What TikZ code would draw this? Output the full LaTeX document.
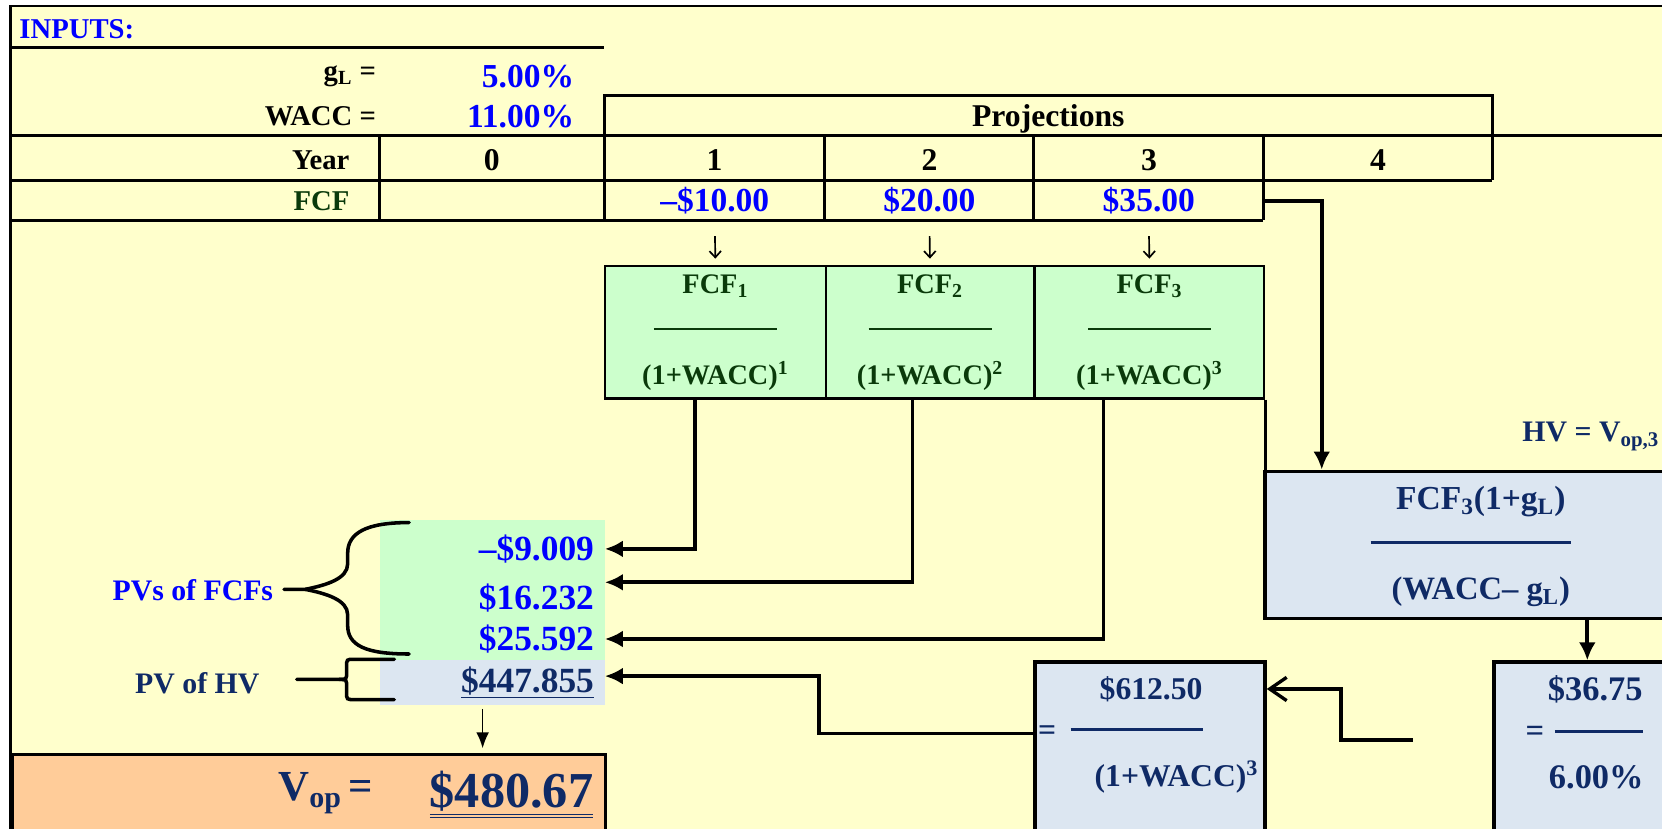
\documentclass[tikz,border=0pt]{standalone}
\usepackage{xcolor}
\usepackage{fontspec}
\setmainfont{Liberation Serif}
\usepackage{tikz}
\usetikzlibrary{arrows.meta}

\definecolor{sheet}{HTML}{FFFFCC}
\definecolor{pvgreen}{HTML}{CCFFCC}
\definecolor{hvblue}{HTML}{DCE6F1}
\definecolor{vopfill}{HTML}{FFCC99}
\definecolor{inblue}{HTML}{0000FF}
\definecolor{fcfgreen}{HTML}{0A3A0A}
\definecolor{hvnavy}{HTML}{0F2A66}

\newcommand{\sheetfont}[2]{\fontsize{#1}{#2}\selectfont\bfseries}

\tikzstyle{gridline} = [line width=1.7pt]
\tikzstyle{rowlabel} = [inner sep=0pt, anchor=east, font=\sheetfont{15.4}{18}]
\tikzstyle{inval} = [inner sep=0pt, anchor=east, text=inblue, font=\sheetfont{18}{21}]
\tikzstyle{headnum} = [inner sep=0pt, font=\sheetfont{17}{20}]
\tikzstyle{fcfcell} = [rectangle, anchor=north west, inner sep=0pt, minimum height=0.76cm, text=inblue, font=\sheetfont{18}{21}]
\tikzstyle{greenbox} = [rectangle, anchor=north west, draw=black, line width=1.1pt, fill=pvgreen, minimum height=2.5cm, inner sep=0pt, align=center, text=fcfgreen, font=\sheetfont{15.2}{24.4}]
\tikzstyle{valcell} = [rectangle, anchor=north west, inner xsep=0.2cm, inner ysep=0pt, text width=3.84cm, align=right, font=\sheetfont{19}{22}]
\tikzstyle{hvbox} = [rectangle, anchor=north west, draw=black, line width=1.8pt, fill=hvblue, minimum height=4cm]
\tikzstyle{hvtext} = [inner sep=0pt, text=hvnavy, font=\sheetfont{17.5}{20}]
\tikzstyle{fracrule} = [line width=1.6pt, hvnavy]
\tikzstyle{curl} = [line width=1.9pt, line cap=round]
\tikzstyle{arrow} = [line width=2pt, -{Latex[length=0.34cm, width=0.32cm]}]
\tikzstyle{thinarrow} = [line width=0.9pt, -{Latex[length=0.3cm, width=0.24cm]}]
\tikzstyle{downarrow} = [line width=0.9pt, -{Straight Barb[length=0.12cm, width=0.22cm]}]
\tikzstyle{openarrow} = [line width=1.8pt, -{Straight Barb[length=0.32cm, width=0.44cm]}]

\begin{document}
\begin{tikzpicture}[x=0.02cm, y=-0.02cm]

        \useasboundingbox (0,0) rectangle (1568,782);
        \clip (0,0) rectangle (1568,782);
        \fill[white] (0,0) rectangle (1568,782);
        \fill[sheet] (10,6) rectangle (1568,782);
        \draw[line width=1.2pt] (10,800) -- (10,6) -- (1570,6);

        % Grid of the input sheet
        \draw[gridline] (10,45) -- (570,45);
        \draw[gridline] (570,128) -- (570,90) -- (1408,90) -- (1408,170);
        \draw[gridline] (10,128) -- (1568,128);
        \draw[gridline] (10,170) -- (1408,170);
        \draw[gridline] (10,208) -- (1192,208);
        \draw[gridline] (358,128) -- (358,208);
        \draw[gridline] (570,128) -- (570,208);
        \draw[gridline] (778,128) -- (778,208);
        \draw[gridline] (975,128) -- (975,208);
        \draw[gridline] (1192,128) -- (1192,208);

        % Inputs
        \node (inputs) [inner sep=0pt, anchor=west, text=inblue, font=\sheetfont{15.4}{18}] at (18,28) {INPUTS:};
        \node (gl) [rowlabel] at (355,72) {g\textsubscript{L} =};
        \node (glval) [inval] at (542,72) {5.00\%};
        \node (wacc) [rowlabel] at (355,110) {WACC =};
        \node (waccval) [inval] at (542,110) {11.00\%};

        % Timeline
        \node (proj) [headnum] at (989,112) {Projections};
        \node (year) [rowlabel] at (330,151) {Year};
        \node (y0) [headnum] at (464,151) {0};
        \node (y1) [headnum] at (674,151) {1};
        \node (y2) [headnum] at (877,151) {2};
        \node (y3) [headnum] at (1084,151) {3};
        \node (y4) [headnum] at (1300,151) {4};
        \node (fcflbl) [rowlabel, text=fcfgreen] at (330,190) {FCF};
        \node (fcf1) [fcfcell, minimum width=4.16cm] at (570,170) {–\$10.00};
        \node (fcf2) [fcfcell, minimum width=3.94cm] at (778,170) {\$20.00};
        \node (fcf3) [fcfcell, minimum width=4.34cm] at (975,170) {\$35.00};

        % Discounting
        \node (g1) [greenbox, minimum width=4.16cm] at (570,250) {FCF\textsubscript{1}\\\rule[0.3em]{2.32cm}{1.4pt}\\(1+WACC)\textsuperscript{1}};
        \node (g2) [greenbox, minimum width=3.94cm] at (778,250) {FCF\textsubscript{2}\\\rule[0.3em]{2.32cm}{1.4pt}\\(1+WACC)\textsuperscript{2}};
        \node (g3) [greenbox, minimum width=4.34cm] at (975,250) {FCF\textsubscript{3}\\\rule[0.3em]{2.32cm}{1.4pt}\\(1+WACC)\textsuperscript{3}};

        % Present values
        \node (pv1) [valcell, fill=pvgreen, minimum height=1.1cm, text=inblue] at (358,490) {–\$9.009};
        \node (pv2) [valcell, fill=pvgreen, minimum height=0.76cm, text=inblue] at (358,545) {\$16.232};
        \node (pv3) [valcell, fill=pvgreen, minimum height=0.78cm, text=inblue] at (358,583) {\$25.592};
        \node (pvhv) [valcell, fill=hvblue, minimum height=0.86cm, text=hvnavy] at (358,622) {\underline{\$447.855}};
        \node (pvlbl) [inner sep=0pt, anchor=east, text=inblue, font=\sheetfont{16}{19}] at (258,557) {PVs of FCFs};
        \node (pvhvlbl) [hvtext, anchor=east, font=\sheetfont{16}{19}] at (245,645) {PV of HV};

        % Horizon value
        \node (hvlbl) [hvtext, anchor=west, font=\sheetfont{16}{19}] at (1436,412) {HV = V\textsubscript{op,3}};
        \node (hv) [hvbox, minimum width=12.16cm, minimum height=2.78cm] at (1192,443) {};
        \node (hvnum) [hvtext, font=\sheetfont{18}{21}] at (1397,473) {FCF\textsubscript{3}(1+g\textsubscript{L})};
        \node (hvden) [hvtext] at (1397,558) {(WACC– g\textsubscript{L})};
        \draw[fracrule] (1293,512) -- (1482,512);

        \node (v3675) [hvbox, minimum width=6cm] at (1408,623) {};
        \node (num3675) [hvtext, font=\sheetfont{18.5}{21}] at (1505,650) {\$36.75};
        \node (eqB) [hvtext] at (1448,692) {=};
        \draw[fracrule] (1467,690) -- (1550,690);
        \node (den3675) [hvtext, font=\sheetfont{18.5}{21}] at (1506,733) {6.00\%};

        \node (v612) [hvbox, minimum width=4.34cm] at (975,623) {};
        \node (num612) [hvtext, font=\sheetfont{17}{20}] at (1086,650) {\$612.50};
        \node (eqA) [hvtext, font=\sheetfont{17}{20}] at (988,692) {=};
        \draw[fracrule] (1010,688) -- (1135,688);
        \node (den612) [hvtext, font=\sheetfont{17}{20}] at (1110,733) {(1+WACC)\textsuperscript{3}};

        % Value of operations
        \node (vop) [rectangle, anchor=north west, draw=black, line width=1.8pt, fill=vopfill, minimum width=11.2cm, minimum height=2cm] at (10,710) {};
        \node (voplbl) [hvtext, anchor=east, font=\sheetfont{23}{27}] at (352,748) {V\textsubscript{op}\hspace{0.12cm}=};
        \node (vopval) [hvtext, anchor=east, font=\sheetfont{27}{30}] at (560,750) {\underline{\underline{\$480.67}}};

        % Braces
        \draw[curl] (268,556) -- (288,556) .. controls (308,552) and (328,546) .. (328,532) -- (328,522) .. controls (328,503) and (345,493) .. (386,493);
        \draw[curl] (288,556) .. controls (308,560) and (328,566) .. (328,580) -- (328,590) .. controls (328,609) and (345,617) .. (386,617);
        \draw[curl] (280,641) -- (320,641) .. controls (327,641) .. (327,634) -- (327,629) .. controls (327,622) .. (334,622) -- (372,622);
        \draw[curl] (320,641) .. controls (327,641) .. (327,648) -- (327,653) .. controls (327,660) .. (334,660) -- (372,660);

        % Arrows
        \draw[downarrow, shorten <=0.28cm, shorten >=0.12cm] (fcf1.south) -- (g1.north);
        \draw[downarrow, shorten <=0.28cm, shorten >=0.12cm] (fcf2.south) -- (g2.north);
        \draw[downarrow, shorten <=0.28cm, shorten >=0.12cm] (fcf3.south) -- (g3.north);
        \draw[arrow] ([xshift=-0.38cm]g1.south) |- (pv1.east);
        \draw[arrow] ([xshift=-0.33cm]g2.south) |- ([yshift=0.3cm]pv2.east);
        \draw[arrow] ([xshift=-0.87cm]g3.south) |- (pv3.east);
        \draw[gridline] (g3.south east) -- (g3.south east |- hv.north);
        \draw[arrow] (fcf3.east) -| ([xshift=1.1cm]hv.north west);
        \draw[arrow] (hv.south) -- (hv.south |- v3675.north);
        \coordinate (hvtail) at (1333,698);
        \draw[openarrow] (hvtail) -- ++(-68,0) |- (v612.east |- num612);
        \draw[arrow] (v612.west |- eqA) -- ++(-202,0) |- ([yshift=0.12cm]pvhv.east);
        \draw[thinarrow, shorten <=0.06cm, shorten >=0.08cm] ([xshift=-0.18cm]pvhv.south) -- ([xshift=-0.18cm]pvhv.south |- vop.north);

\end{tikzpicture}
\end{document}
